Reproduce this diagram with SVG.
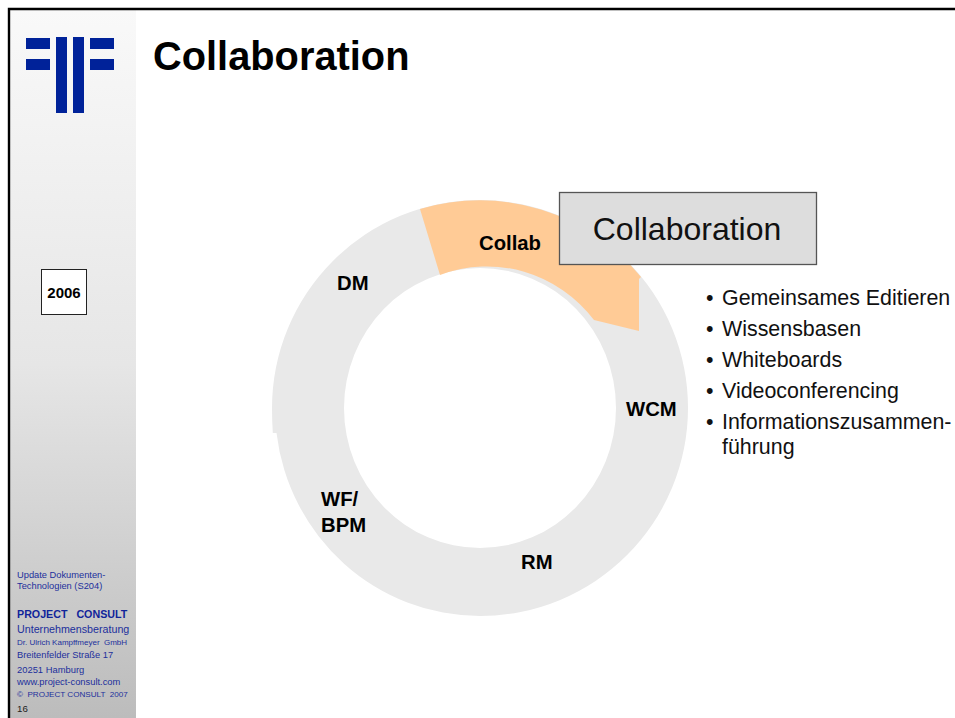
<svg xmlns="http://www.w3.org/2000/svg" width="955" height="718" viewBox="0 0 955 718">
<style>
text{font-family:"Liberation Sans",Arial,sans-serif}
.lbl{font-size:20.300px;font-weight:bold;fill:#000}
.bul{font-size:21.400px;fill:#111}
.side{fill:#1c2f9c}
.logo{fill:#002299}
</style>
<defs><linearGradient id="sb" x1="0" y1="0" x2="0" y2="1"><stop offset="0" stop-color="#f9f9f9"/><stop offset="0.5" stop-color="#e6e6e6"/><stop offset="1" stop-color="#bcbcbc"/></linearGradient></defs>
<rect width="955" height="718" fill="#fff"/>
<rect x="10" y="10" width="126" height="708" fill="url(#sb)"/>
<path d="M9 718V9H955" fill="none" stroke="#000" stroke-width="2.4"/>
<g id="logo">
<rect class="logo" x="26" y="38" width="24" height="11"/><rect class="logo" x="26" y="59" width="24" height="11"/>
<rect class="logo" x="56" y="37" width="11" height="76"/><rect class="logo" x="73" y="37" width="11" height="76"/>
<rect class="logo" x="90" y="38" width="24" height="11"/><rect class="logo" x="90" y="59" width="24" height="11"/>
</g>
<text x="153" y="70" font-size="39.800" font-weight="bold" fill="#000">Collaboration</text>
<g id="year"><rect x="41.500" y="269.500" width="45" height="45" fill="#fff" stroke="#222"/><text x="64" y="298" font-size="15" font-weight="bold" text-anchor="middle">2006</text></g>
<g id="sidebar-text">
<text class="side" x="17" y="578" font-size="9.300">Update Dokumenten-</text>
<text class="side" x="17" y="589" font-size="9.300">Technologien (S204)</text>
<text x="17" y="618" font-size="10.700" font-weight="bold" fill="#10249a" xml:space="preserve">PROJECT   CONSULT</text>
<text class="side" x="17" y="633" font-size="10.700">Unternehmensberatung</text>
<text class="side" x="17" y="645" font-size="8" xml:space="preserve">Dr. Ulrich Kampffmeyer  GmbH</text>
<text class="side" x="17" y="658" font-size="9.300">Breitenfelder Straße 17</text>
<text class="side" x="17" y="673" font-size="9.400">20251 Hamburg</text>
<text class="side" x="17" y="685" font-size="9.350">www.project-consult.com</text>
<text class="side" x="17" y="697" font-size="8.100" xml:space="preserve">©  PROJECT CONSULT  2007</text>
<text x="17" y="712" font-size="9.700" fill="#222">16</text>
</g>
<g id="ring">
<path fill-rule="evenodd" fill="#e9e9e9" d="M480 200A208 208 0 0 1 480 616A205 208 0 0 1 276.500 433H272.800Q272 420 272 408A208 208 0 0 1 480 200ZM344 408A136 140 0 0 0 616 408A136 140 0 0 0 344 408Z"/>
</g>
<g id="collab-segment"><path d="M420 209A208 208 0 0 1 641 277L639 279V331L594 320A136 140 0 0 0 440 275Z" fill="#ffcb96"/></g>
<g id="callout"><rect x="559.500" y="192.500" width="257" height="72" fill="#dddddd" stroke="#555" stroke-width="1.300"/><text x="687" y="240" font-size="32" text-anchor="middle" fill="#111">Collaboration</text></g>
<g id="labels">
<text class="lbl" x="479" y="250">Collab</text>
<text class="lbl" x="337" y="290">DM</text>
<text class="lbl" x="626" y="416">WCM</text>
<text class="lbl" x="321" y="506">WF/</text>
<text class="lbl" x="321" y="532">BPM</text>
<text class="lbl" x="521" y="569">RM</text>
</g>
<g id="bullets">
<text class="bul" x="706" y="305">•</text><text class="bul" x="722" y="305">Gemeinsames Editieren</text>
<text class="bul" x="706" y="336">•</text><text class="bul" x="722" y="336">Wissensbasen</text>
<text class="bul" x="706" y="367">•</text><text class="bul" x="722" y="367">Whiteboards</text>
<text class="bul" x="706" y="398">•</text><text class="bul" x="722" y="398">Videoconferencing</text>
<text class="bul" x="706" y="429">•</text><text class="bul" x="722" y="429">Informationszusammen-</text>
<text class="bul" x="722" y="454">führung</text>
</g>
</svg>
